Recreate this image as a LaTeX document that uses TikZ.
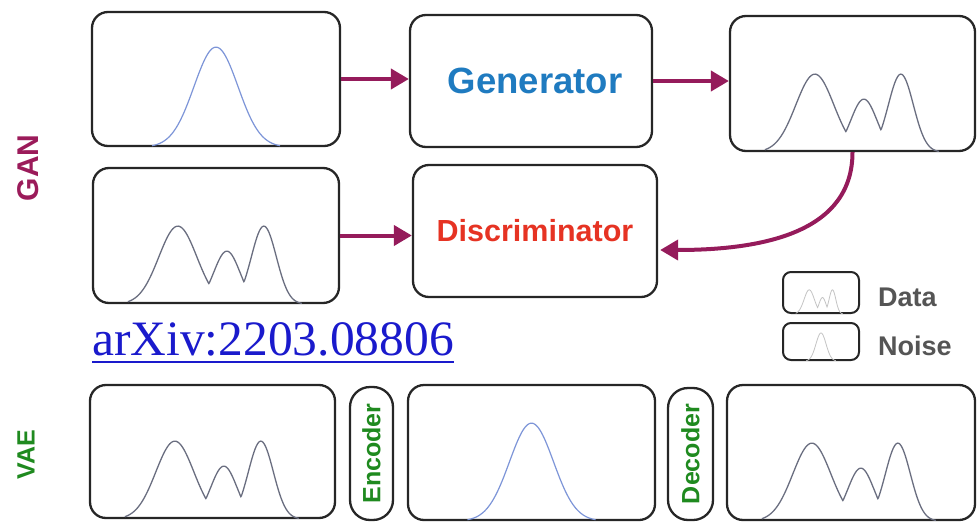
\documentclass[tikz,border=0pt]{standalone}
\usepackage{fontspec}
\setmainfont{Liberation Serif}
\setsansfont{Liberation Sans}
\usetikzlibrary{arrows.meta,calc}
\definecolor{boxc}{HTML}{262626}
\definecolor{arrowc}{HTML}{951B5B}
\definecolor{noisec}{HTML}{7D95D8}
\definecolor{datac}{HTML}{6A6E80}
\definecolor{genc}{HTML}{1F7BC0}
\definecolor{discc}{HTML}{E63323}
\definecolor{ganc}{HTML}{9B1B5A}
\definecolor{vaec}{HTML}{1F8A1F}
\definecolor{legc}{HTML}{555555}
\definecolor{linkc}{HTML}{1A1ACC}
\definecolor{minic}{HTML}{C4C4C4}
\tikzset{
  panel/.style={draw=boxc, line width=2.3pt, rounded corners=16pt, inner sep=0pt, fill=white},
  pill/.style={draw=boxc, line width=2.3pt, rounded corners=20pt, inner sep=0pt, fill=white},
  flow/.style={draw=arrowc, line width=4pt, -{Triangle[length=18pt,width=20pt]}},
  noisecurve/.style={draw=noisec, line width=1.2pt},
  datacurve/.style={draw=datac, line width=1.3pt},
  lab/.style={inner sep=0pt, font=\sffamily\bfseries}
}
\newcommand\DataCurve[2][datacurve]{%
  \begin{scope}[shift={(#2.south west)}]
    \draw[#1] plot[domain=36:210, samples=160, smooth]
      (\x,{-max(78*exp(-(((\x-86)/19)^2)/2), 53*exp(-(((\x-135)/13)^2)/2), 78*exp(-(((\x-172)/12.5)^2)/2))});
  \end{scope}}
\newcommand\NoiseCurve[2]{%
  \begin{scope}[shift={(#1.south)}]
    \draw[noisecurve] plot[domain=-64:64, samples=100, smooth]
      (\x,{-#2*exp(-((\x/22)^2)/2)});
  \end{scope}}
\begin{document}
\begin{tikzpicture}[x=1pt, y=-1pt]
\useasboundingbox (0,0) rectangle (980,522);
% GAN row 1
\node[panel, minimum width=248pt, minimum height=134pt] (n1) at (216,79) {};
\node[panel, minimum width=242pt, minimum height=132pt, text=genc,
      font=\sffamily\bfseries\fontsize{36.5}{40}\selectfont] (gen) at (531,81) {\hspace*{8pt}Generator};
\node[panel, minimum width=245pt, minimum height=135pt] (tr) at (852.5,83.5) {};
% GAN row 2
\node[panel, minimum width=246pt, minimum height=135pt] (d1) at (216,235.5) {};
\node[panel, minimum width=244pt, minimum height=132pt, text=discc,
      font=\sffamily\bfseries\fontsize{30.5}{34}\selectfont] (disc) at (535,231) {Discriminator};
% VAE row
\node[panel, minimum width=245pt, minimum height=133pt] (v1) at (212.5,451.5) {};
\node[pill, rotate=90, minimum width=133pt, minimum height=43pt, text=vaec,
      font=\sffamily\bfseries\fontsize{25}{28}\selectfont] (enc) at (371.5,453.5) {Encoder};
\node[panel, minimum width=247pt, minimum height=135pt] (v2) at (531.5,452.5) {};
\node[pill, rotate=90, minimum width=132pt, minimum height=45pt, text=vaec,
      font=\sffamily\bfseries\fontsize{25}{28}\selectfont] (dec) at (690.5,454) {Decoder};
\node[panel, minimum width=248pt, minimum height=135pt] (v3) at (851,452.5) {};
% side labels
\node[lab, rotate=90, text=ganc, font=\sffamily\bfseries\fontsize{30}{34}\selectfont] (gan) at (28,168) {GAN};
\node[lab, rotate=90, text=vaec, font=\sffamily\bfseries\fontsize{25}{28}\selectfont] (vae) at (26,455) {VAE};
% curves
\NoiseCurve{n1}{100}
\NoiseCurve{v2}{98}
\DataCurve{tr}
\DataCurve{d1}
\DataCurve{v1}
\DataCurve{v3}
% arrows
\draw[flow] (n1.east) -- (n1.east -| gen.west);
\draw[flow] (gen.east) -- (gen.east -| tr.west);
\draw[flow] (d1.east) -- (d1.east -| disc.west);
\draw[flow] (tr.south) .. controls ($(tr.south)+(0,78)$) and ($(disc.east)+(110,19)$) .. ($(disc.east)+(2,19)$);
% legend
\node[panel, line width=2pt, rounded corners=8pt, minimum width=76pt, minimum height=41pt] (ld) at (821,292.5) {};
\node[panel, line width=2pt, rounded corners=8pt, minimum width=76pt, minimum height=37pt] (ln) at (821,341.5) {};
\begin{scope}[shift={($(ld.south west)+(4,0)$)}, xscale=0.27, yscale=0.31]
  \draw[minic, line width=0.8pt] plot[domain=36:210, samples=100, smooth]
      (\x,{-max(78*exp(-(((\x-86)/19)^2)/2), 53*exp(-(((\x-135)/13)^2)/2), 78*exp(-(((\x-172)/12.5)^2)/2))});
\end{scope}
\begin{scope}[shift={(ln.south)}, xscale=0.23, yscale=0.28]
  \draw[minic, line width=0.8pt] plot[domain=-64:64, samples=80, smooth] (\x,{-100*exp(-((\x/22)^2)/2)});
\end{scope}
\node[lab, anchor=west, text=legc, font=\sffamily\bfseries\fontsize{27}{30}\selectfont] (ldt) at (878,297.5) {Data};
\node[lab, anchor=west, text=legc, font=\sffamily\bfseries\fontsize{27}{30}\selectfont] (lnt) at (878,346) {Noise};
% link
\node[anchor=base west, inner sep=0pt, text=linkc, font=\fontsize{49.5}{52}\selectfont] (link) at (92,355) {arXiv:2203.08806};
\draw[linkc, line width=2.2pt] ([yshift=-7pt]link.base west) -- ([yshift=-7pt]link.base east);
\end{tikzpicture}
\end{document}
